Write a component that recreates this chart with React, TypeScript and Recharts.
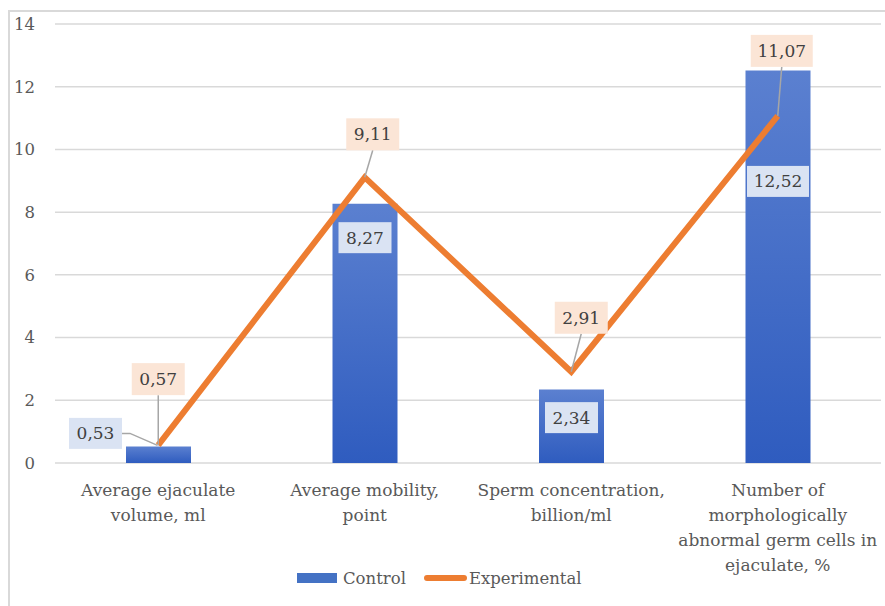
import { ComposedChart, Bar, Line, XAxis, YAxis, CartesianGrid, Legend, LabelList } from 'recharts'

const categories = [
  'Average ejaculate\nvolume, ml',
  'Average mobility,\npoint',
  'Sperm concentration,\nbillion/ml',
  'Number of\nmorphologically\nabnormal germ cells in\nejaculate, %',
]
const controlValues = [0.53, 8.27, 2.34, 12.52]
const experimentalValues = [0.57, 9.11, 2.91, 11.07]
const yTicks = [0, 2, 4, 6, 8, 10, 12, 14]

const FONT = 'DejaVu Serif'
const TEXT = '#595959'
const LABEL_TEXT = '#404040'
const LEADER = '#a6a6a6'

// label box offsets from the bar top / line point
const controlLabelPos = [
  { dx: -63, dy: -13, leader: true },
  { dx: 0, dy: 34, leader: false },
  { dx: 0, dy: 28, leader: false },
  { dx: 0, dy: 111, leader: false },
]
const experimentalLabelPos = [
  { dx: 0, dy: -66 },
  { dx: 8, dy: -43 },
  { dx: 10, dy: -54 },
  { dx: 4, dy: -65 },
]

const chartData = categories.map((name, i) => ({
  name,
  control: controlValues[i],
  experimental: experimentalValues[i],
}))

const fmt = (v: number) => v.toFixed(2).replace('.', ',')
const boxWidth = (s: string) => s.length * 9 + 17

const textStyle = { fontFamily: FONT }

function ControlLabel(props: any) {
  const { x, y, width, value, index } = props
  const pos = controlLabelPos[index]
  const text = fmt(value)
  const w = boxWidth(text)
  const h = 31
  const cx = x + width / 2 + pos.dx
  const cy = y + pos.dy
  return (
    <g>
      {pos.leader && (
        <polyline
          points={`${cx + w / 2},${cy} ${cx + w / 2 + 8},${cy} ${x + width / 2 - 1},${y - 1}`}
          fill="none"
          stroke={LEADER}
          strokeWidth={1.5}
        />
      )}
      <rect x={cx - w / 2} y={cy - h / 2} width={w} height={h} fill="#dae3f3" />
      <text x={cx} y={cy} textAnchor="middle" dominantBaseline="central" style={textStyle} fontSize={17} fill={LABEL_TEXT}>
        {text}
      </text>
    </g>
  )
}

function ExperimentalLabel(props: any) {
  const { x, y, value, index } = props
  const pos = experimentalLabelPos[index]
  const text = fmt(value)
  const w = boxWidth(text)
  const h = 32
  const cx = x + pos.dx
  const cy = y + pos.dy
  return (
    <g>
      <line x1={cx} y1={cy + h / 2} x2={x} y2={y} stroke={LEADER} strokeWidth={1.5} />
      <rect x={cx - w / 2} y={cy - h / 2} width={w} height={h} fill="#fbe5d6" />
      <text x={cx} y={cy} textAnchor="middle" dominantBaseline="central" style={textStyle} fontSize={17} fill={LABEL_TEXT}>
        {text}
      </text>
    </g>
  )
}

function CategoryTick(props: any) {
  const { x, y, payload } = props
  const lines = String(payload.value).split('\n')
  return (
    <g>
      {lines.map((line, i) => (
        <text
          key={i}
          x={x}
          y={y + 19 + i * 25}
          textAnchor="middle"
          dominantBaseline="central"
          style={textStyle}
          fontSize={17}
          fill={TEXT}
        >
          {line}
        </text>
      ))}
    </g>
  )
}

function ChartLegend() {
  return (
    <div style={{ display: 'flex', alignItems: 'center', fontFamily: FONT, fontSize: 16.5, color: TEXT, height: 24 }}>
      <div style={{ width: 40, height: 10, background: '#4472c4', marginRight: 6 }} />
      <span style={{ marginRight: 18 }}>Control</span>
      <div style={{ width: 43, height: 6, borderRadius: 3, background: '#ed7d31', marginRight: 2 }} />
      <span>Experimental</span>
    </div>
  )
}

export default function App() {
  return (
    <div style={{ position: 'absolute', left: 0, top: 0, width: 885, height: 606, background: '#fff', fontFamily: FONT }}>
      <div
        style={{
          position: 'absolute',
          left: 8,
          top: 10,
          width: 877,
          height: 596,
          borderTop: '2px solid #d9d9d9',
          borderLeft: '2px solid #d9d9d9',
          boxSizing: 'border-box',
        }}
      />
      <ComposedChart
        width={885}
        height={606}
        data={chartData}
        margin={{ top: 24, right: 4, bottom: 0, left: 10 }}
        style={{ position: 'absolute', left: 0, top: 0, fontFamily: FONT }}
      >
        <defs>
          <linearGradient id="controlFill" x1="0" y1="0" x2="0" y2="1">
            <stop offset="0%" stopColor="#5b80d0" />
            <stop offset="100%" stopColor="#2f5cbf" />
          </linearGradient>
        </defs>
        <CartesianGrid vertical={false} stroke="#d9d9d9" strokeWidth={1.5} />
        <XAxis
          dataKey="name"
          height={143}
          axisLine={false}
          tickLine={false}
          interval={0}
          tick={<CategoryTick />}
        />
        <YAxis
          width={45}
          domain={[0, 14]}
          ticks={yTicks}
          axisLine={false}
          tickLine={false}
          tickMargin={14}
          tick={{ fill: TEXT, fontSize: 16.5, style: textStyle }}
        />
        <Legend
          verticalAlign="middle"
          layout="horizontal"
          align="center"
          wrapperStyle={{ top: 566, left: 297, width: 320 }}
          content={<ChartLegend />}
        />
        <Bar dataKey="control" name="Control" fill="url(#controlFill)" barSize={65} isAnimationActive={false}>
          <LabelList dataKey="control" content={<ControlLabel />} />
        </Bar>
        <Line
          dataKey="experimental"
          name="Experimental"
          type="linear"
          stroke="#ed7d31"
          strokeWidth={6}
          strokeLinejoin="miter"
          dot={false}
          activeDot={false}
          isAnimationActive={false}
        >
          <LabelList dataKey="experimental" content={<ExperimentalLabel />} />
        </Line>
      </ComposedChart>
    </div>
  )
}
